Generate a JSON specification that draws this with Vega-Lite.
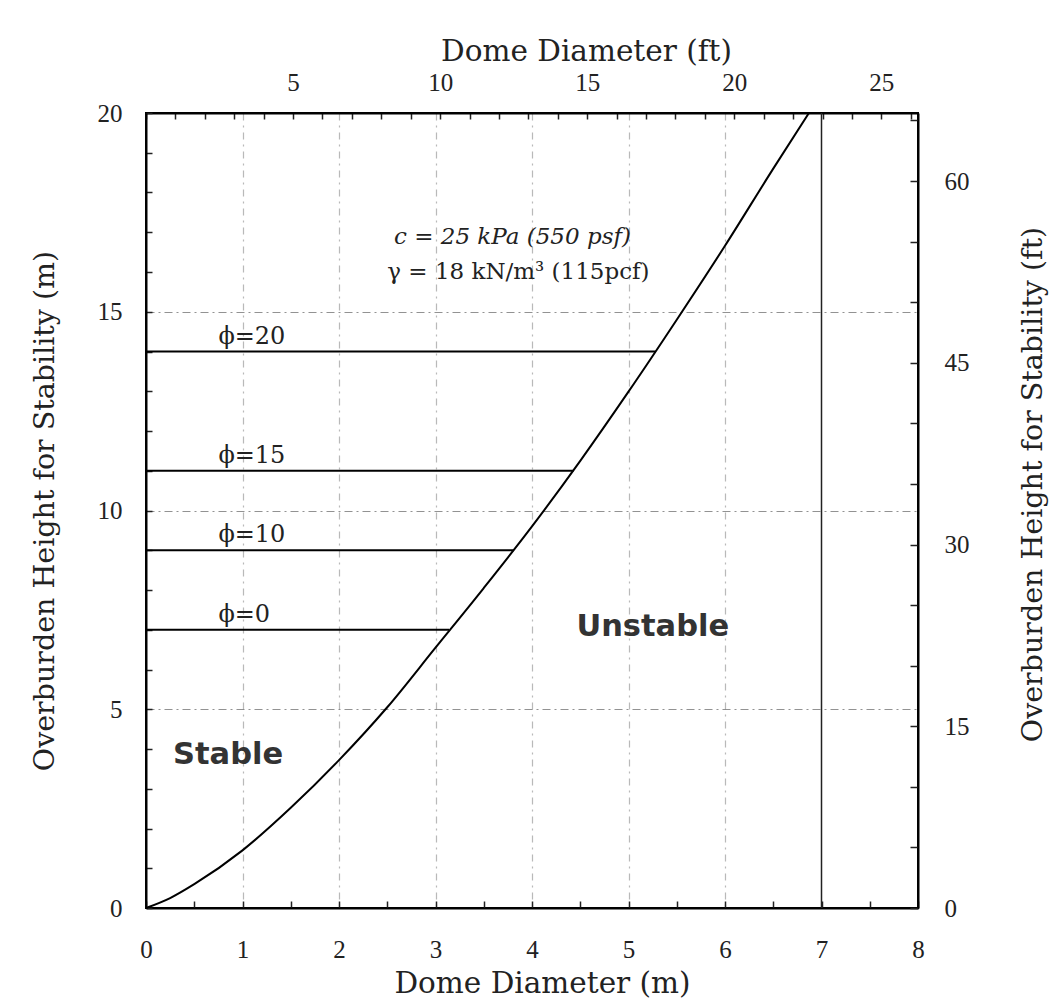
{
  "$schema": "https://vega.github.io/schema/vega-lite/v6.json",
  "width": 772,
  "height": 795,
  "autosize": "none",
  "padding": {"left": 146, "top": 113, "right": 141, "bottom": 97},
  "background": "white",
  "config": {
    "view": {"stroke": "black", "strokeWidth": 2},
    "axis": {
      "labelFont": "Liberation Serif",
      "labelFontSize": 25,
      "labelColor": "#222",
      "titleFont": "DejaVu Serif",
      "titleFontSize": 29.5,
      "titleFontWeight": "normal",
      "titleColor": "#222",
      "domainColor": "black",
      "domainWidth": 2,
      "tickColor": "#222",
      "tickWidth": 1.5,
      "labelFlush": false,
      "labelOverlap": false,
      "format": "d"
    }
  },
  "datasets": {
    "curve": [
      {"D": 0, "H": 0},
      {"D": 0.25, "H": 0.25},
      {"D": 0.5, "H": 0.6},
      {"D": 1.0, "H": 1.45},
      {"D": 1.5, "H": 2.52},
      {"D": 2.0, "H": 3.72},
      {"D": 2.5, "H": 5.05},
      {"D": 3.0, "H": 6.55},
      {"D": 3.5, "H": 8.05},
      {"D": 4.0, "H": 9.6},
      {"D": 4.5, "H": 11.25},
      {"D": 5.0, "H": 12.99},
      {"D": 5.5, "H": 14.8},
      {"D": 6.0, "H": 16.66},
      {"D": 6.5, "H": 18.6},
      {"D": 6.87, "H": 20.0}
    ],
    "phi": [
      {"label": "ϕ=0", "H": 7, "D": 3.14},
      {"label": "ϕ=10", "H": 9, "D": 3.81},
      {"label": "ϕ=15", "H": 11, "D": 4.43},
      {"label": "ϕ=20", "H": 14, "D": 5.28}
    ],
    "one": [{"n": 1}],
    "ft": [{"Dft": 0, "Hft": 0}]
  },
  "layer": [
    {
      "data": {"name": "curve"},
      "mark": {"type": "line", "color": "black", "strokeWidth": 2, "interpolate": "monotone"},
      "encoding": {
        "x": {
          "field": "D", "type": "quantitative", "title": "Dome Diameter (m)",
          "scale": {"domain": [0, 8], "nice": false, "zero": false},
          "axis": {
            "orient": "bottom",
            "values": [0, 0.5, 1, 1.5, 2, 2.5, 3, 3.5, 4, 4.5, 5, 5.5, 6, 6.5, 7, 7.5, 8],
            "labelExpr": "datum.value % 1 === 0 ? datum.label : ''",
            "tickSize": -7,
            "labelPadding": 36,
            "titlePadding": 7,
            "titleX": 396,
            "grid": true,
            "gridColor": "#8a8a8a",
            "gridWidth": 1.2,
            "gridDash": [7, 5, 2, 5],
            "gridOpacity": {"condition": {"test": "datum.value % 1 === 0 && datum.value > 0 && datum.value < 7", "value": 0.6}, "value": 0}
          }
        },
        "y": {
          "field": "H", "type": "quantitative", "title": "Overburden Height for Stability (m)",
          "scale": {"domain": [0, 20], "nice": false, "zero": false},
          "axis": {
            "orient": "left",
            "values": [0, 1, 2, 3, 4, 5, 6, 7, 8, 9, 10, 11, 12, 13, 14, 15, 16, 17, 18, 19, 20],
            "labelExpr": "datum.value % 5 === 0 ? datum.label : ''",
            "tickSize": -6,
            "labelPadding": 30,
            "titlePadding": 38,
            "titleFontSize": 28.5,
            "grid": true,
            "gridColor": "#777",
            "gridWidth": 1.2,
            "gridDash": [8, 4, 2, 4],
            "gridOpacity": {"condition": {"test": "datum.value % 5 === 0 && datum.value > 0 && datum.value < 20", "value": 0.8}, "value": 0}
          }
        }
      }
    },
    {
      "data": {"name": "ft"},
      "mark": {"type": "point", "opacity": 0},
      "encoding": {
        "x": {
          "field": "Dft", "type": "quantitative", "title": "Dome Diameter (ft)",
          "scale": {"domain": [0, 26.2467], "nice": false, "zero": false},
          "axis": {
            "orient": "top",
            "values": [0, 1, 2, 3, 4, 5, 6, 7, 8, 9, 10, 11, 12, 13, 14, 15, 16, 17, 18, 19, 20, 21, 22, 23, 24, 25, 26],
            "labelExpr": "datum.value % 5 === 0 && datum.value > 0 ? datum.label : ''",
            "tickSize": -6,
            "labelPadding": 24,
            "titlePadding": 4,
            "titleX": 440,
            "grid": false
          }
        },
        "y": {
          "field": "Hft", "type": "quantitative", "title": "Overburden Height for Stability (ft)",
          "scale": {"domain": [0, 65.6168], "nice": false, "zero": false},
          "axis": {
            "orient": "right",
            "values": [0, 5, 10, 15, 20, 25, 30, 35, 40, 45, 50, 55, 60, 65],
            "labelExpr": "datum.value % 15 === 0 ? datum.label : ''",
            "tickSize": -8,
            "labelPadding": 34,
            "titlePadding": 78,
            "titleAngle": 270,
            "titleFontSize": 28.5,
            "titleY": 371,
            "grid": false
          }
        }
      }
    },
    {
      "data": {"name": "one"},
      "mark": {"type": "rule", "color": "#222", "strokeWidth": 1.5},
      "encoding": {
        "x": {"datum": 7, "type": "quantitative", "scale": {"domain": [0, 8], "nice": false, "zero": false}, "axis": null}
      }
    },
    {
      "data": {"name": "phi"},
      "mark": {"type": "rule", "color": "black", "strokeWidth": 2},
      "encoding": {
        "x": {"field": "D", "type": "quantitative", "scale": {"domain": [0, 8], "nice": false, "zero": false}, "axis": null},
        "x2": {"datum": 0},
        "y": {"field": "H", "type": "quantitative", "scale": {"domain": [0, 20], "nice": false, "zero": false}, "axis": null}
      }
    },
    {
      "data": {"name": "phi"},
      "mark": {"type": "text", "font": "DejaVu Serif", "fontSize": 24, "align": "left", "baseline": "middle", "dy": -15, "color": "#222"},
      "encoding": {
        "x": {"datum": 0.75, "type": "quantitative", "scale": {"domain": [0, 8], "nice": false, "zero": false}, "axis": null},
        "y": {"field": "H", "type": "quantitative", "scale": {"domain": [0, 20], "nice": false, "zero": false}, "axis": null},
        "text": {"field": "label"}
      }
    },
    {
      "data": {"name": "one"},
      "mark": {"type": "text", "font": "DejaVu Serif", "fontSize": 23, "fontStyle": "italic", "align": "left", "baseline": "middle", "color": "#222"},
      "encoding": {
        "x": {"datum": 2.57, "type": "quantitative", "scale": {"domain": [0, 8], "nice": false, "zero": false}, "axis": null},
        "y": {"datum": 16.88, "type": "quantitative", "scale": {"domain": [0, 20], "nice": false, "zero": false}, "axis": null},
        "text": {"value": "c = 25 kPa (550 psf)"}
      }
    },
    {
      "data": {"name": "one"},
      "mark": {"type": "text", "font": "DejaVu Serif", "fontSize": 23, "align": "left", "baseline": "middle", "color": "#222"},
      "encoding": {
        "x": {"datum": 2.5, "type": "quantitative", "scale": {"domain": [0, 8], "nice": false, "zero": false}, "axis": null},
        "y": {"datum": 16.0, "type": "quantitative", "scale": {"domain": [0, 20], "nice": false, "zero": false}, "axis": null},
        "text": {"value": "γ = 18 kN/m³ (115pcf)"}
      }
    },
    {
      "data": {"name": "one"},
      "mark": {"type": "text", "font": "DejaVu Sans", "fontSize": 30.5, "fontWeight": "bold", "align": "left", "baseline": "middle", "color": "#333"},
      "encoding": {
        "x": {"datum": 0.28, "type": "quantitative", "scale": {"domain": [0, 8], "nice": false, "zero": false}, "axis": null},
        "y": {"datum": 3.85, "type": "quantitative", "scale": {"domain": [0, 20], "nice": false, "zero": false}, "axis": null},
        "text": {"value": "Stable"}
      }
    },
    {
      "data": {"name": "one"},
      "mark": {"type": "text", "font": "DejaVu Sans", "fontSize": 30.5, "fontWeight": "bold", "align": "left", "baseline": "middle", "color": "#333"},
      "encoding": {
        "x": {"datum": 4.46, "type": "quantitative", "scale": {"domain": [0, 8], "nice": false, "zero": false}, "axis": null},
        "y": {"datum": 7.07, "type": "quantitative", "scale": {"domain": [0, 20], "nice": false, "zero": false}, "axis": null},
        "text": {"value": "Unstable"}
      }
    }
  ],
  "resolve": {
    "scale": {"x": "independent", "y": "independent"},
    "axis": {"x": "independent", "y": "independent"}
  }
}
